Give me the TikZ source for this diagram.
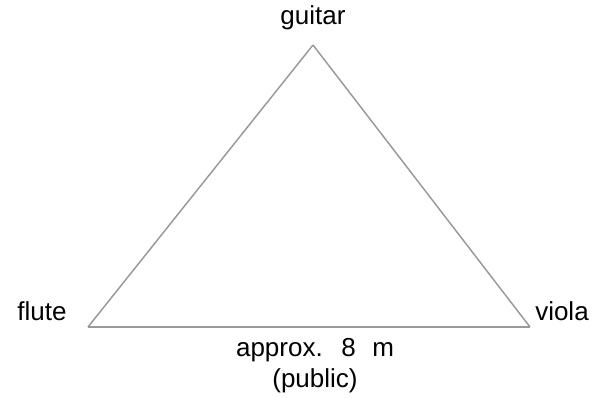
\documentclass[tikz,border=0pt]{standalone}
\usepackage{fontspec}
\setmainfont{Liberation Sans}
\usetikzlibrary{positioning}

\begin{document}
\begin{tikzpicture}[x=0.75pt, y=-0.75pt, every node/.style={font=\fontsize{19.5}{22}\selectfont, inner sep=0pt}, edge/.style={draw=gray!80, line width=1.1pt}]
	\useasboundingbox (0,0) rectangle (597,398);
	\coordinate (G) at (313,45);
	\coordinate (F) at (88,327);
	\coordinate (V) at (530,327);
	\node (guitar) at (313,18) {guitar};
	\node (flute) at (42,311) {flute};
	\node (viola) at (562,311) {viola};
	\node (dist) at (315,350) {approx.\hspace{0.35em} 8\hspace{0.35em} m};
	\node (public) at (315,381) {(public)};
	\foreach \a/\b in {G/F, F/V, V/G} {\draw[edge] (\a) -- (\b);}
\end{tikzpicture}
\end{document}
